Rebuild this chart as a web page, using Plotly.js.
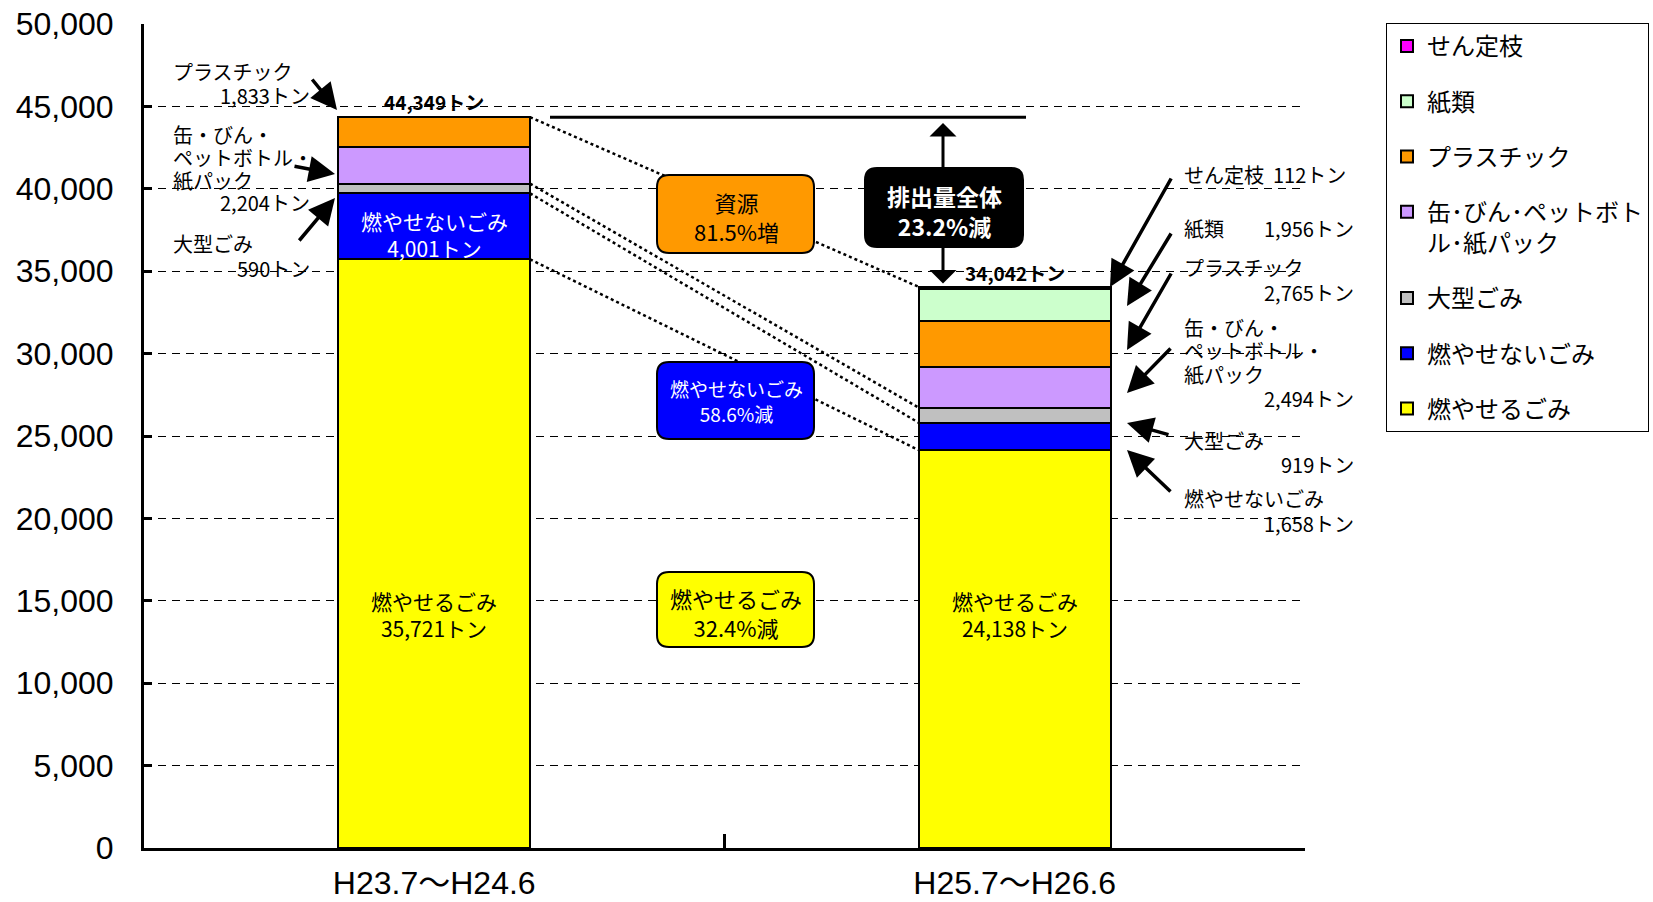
<!DOCTYPE html>
<html>
<head>
<meta charset="utf-8">
<script src="https://cdn.plot.ly/plotly-3.0.1.min.js"></script>
<style>html,body{margin:0;padding:0;background:#fff}#chart{width:1653px;height:902px}</style>
</head>
<body>
<div id="chart"></div>
<script>
// ---- data ----
const categories = ['H23.7～H24.6', 'H25.7～H26.6'];
const seriesNames = ['燃やせるごみ', '燃やせないごみ', '大型ごみ', '缶･びん･ペットボトル･紙パック', 'プラスチック', '紙類', 'せん定枝'];
const moyaseru  = [35721, 24138];
const moyasenai = [4001, 1658];
const oogata    = [590, 919];
const kanbin    = [2204, 2494];
const plastic   = [1833, 2765];
const shirui    = [0, 1956];
const sentei    = [0, 112];
const changeTexts = ['資源<br>81.5%増', '燃やせないごみ<br>58.6%減', '燃やせるごみ<br>32.4%減', '<b>排出量全体<br>23.2%減</b>'];
const yTicks = [0, 5000, 10000, 15000, 20000, 25000, 30000, 35000, 40000, 45000, 50000];

// ---- styles ----
const series = [moyaseru, moyasenai, oogata, kanbin, plastic, shirui, sentei];
const colors = ['#FFFF00', '#0000FF', '#C0C0C0', '#CC99FF', '#FF9900', '#CCFFCC', '#FF00FF'];
const legendNames = ['燃やせるごみ', '燃やせないごみ', '大型ごみ', '缶･びん･ペットボト<br>ル･紙パック', 'プラスチック', '紙類', 'せん定枝'];
const JP = '"Noto Sans CJK JP", sans-serif';
const LAT = '"Liberation Sans", Arial, "Noto Sans CJK JP", sans-serif';
const fmt = n => n.toLocaleString('en-US');

const W = 1653, H = 902;
const L = 144, R = 1305, T = 24, B = 848, YMAX = 50000;
const X = px => -0.5 + (px - L) / (R - L) * 2;
const PX = px => (px - L) / (R - L);
const PY = py => (B - py) / (B - T);

const cum = (k, i) => series.slice(0, k).reduce((s, a) => s + a[i], 0);
const total = i => cum(series.length, i);

const traces = series.map((vals, k) => ({
  type: 'bar', x: categories, y: vals, name: legendNames[k], legendgroup: 'g' + k,
  legendrank: series.length - k,
  marker: {color: colors[k], line: {color: '#000', width: 2}},
  hoverinfo: 'skip'
}));

function label(text, px, py, anchor, extra) {
  return Object.assign({xref: 'paper', yref: 'paper', x: PX(px), y: PY(py), text: text, showarrow: false,
    xanchor: anchor, yanchor: 'middle', borderpad: 0, font: {family: JP, size: 20, color: '#000'}}, extra || {});
}
function arrow(tx, ty, hx, hy) {
  return {xref: 'paper', yref: 'paper', x: PX(hx), y: PY(hy), ax: tx - hx, ay: ty - hy, axref: 'pixel', ayref: 'pixel',
    text: '', showarrow: true, arrowhead: 2, arrowsize: 1.5, arrowwidth: 3.5, arrowcolor: '#000', standoff: 0};
}
function rrect(x0, y0, x1, y1, r) {
  return `M${PX(x0 + r)},${PY(y0)} L${PX(x1 - r)},${PY(y0)} Q${PX(x1)},${PY(y0)} ${PX(x1)},${PY(y0 + r)} ` +
    `L${PX(x1)},${PY(y1 - r)} Q${PX(x1)},${PY(y1)} ${PX(x1 - r)},${PY(y1)} ` +
    `L${PX(x0 + r)},${PY(y1)} Q${PX(x0)},${PY(y1)} ${PX(x0)},${PY(y1 - r)} ` +
    `L${PX(x0)},${PY(y0 + r)} Q${PX(x0)},${PY(y0)} ${PX(x0 + r)},${PY(y0)} Z`;
}

const bargap = 0.67, half = (1 - bargap) / 2;
const t1 = total(0), t2 = total(1);

const shapes = [];
// dotted connector lines
[[7, 7], [3, 3], [2, 2], [1, 1]].forEach(([a, b]) => {
  shapes.push({type: 'line', xref: 'x', yref: 'y', x0: 0 + half, y0: cum(a, 0), x1: 1 - half, y1: cum(b, 1),
    line: {color: '#000', width: 2.5, dash: 'dot'}});
});
// reference level line
shapes.push({type: 'line', xref: 'x', yref: 'y', x0: X(550), x1: X(1026), y0: t1, y1: t1, line: {color: '#000', width: 3}});
// boxes
const boxes = [
  [657, 175, 814, 253, '#FF9900'],
  [657, 362, 814, 439, '#0000FF'],
  [657, 572, 814, 647, '#FFFF00'],
  [865, 168, 1023, 247, '#000000']
];
boxes.forEach(b => shapes.push({type: 'path', xref: 'paper', yref: 'paper', path: rrect(b[0], b[1], b[2], b[3], 12),
  fillcolor: b[4], line: {color: '#000', width: 2}}));

const ann = [];
// double arrow
ann.push({xref: 'paper', yref: 'paper', x: PX(943), y: PY(123), ax: 0, ay: 162, axref: 'pixel', ayref: 'pixel', text: '',
  showarrow: true, arrowhead: 1, startarrowhead: 1, arrowside: 'end+start', arrowsize: 1.5, startarrowsize: 1.5,
  arrowwidth: 3, arrowcolor: '#000', standoff: 0, startstandoff: 0});
// box texts
ann.push(label(changeTexts[0], 736, 217, 'center', {font: {family: JP, size: 22, color: '#000'}}));
ann.push(label(changeTexts[1], 736, 401, 'center', {font: {family: JP, size: 19, color: '#fff'}}));
ann.push(label(changeTexts[2], 736, 612, 'center', {font: {family: JP, size: 22, color: '#000'}}));
ann.push(label(changeTexts[3], 944, 211, 'center', {font: {family: JP, size: 23, color: '#fff'}}));
// totals
ann.push({xref: 'x', yref: 'y', x: 0, y: t1, yshift: 16, text: '<b>' + fmt(t1) + 'トン</b>', showarrow: false,
  font: {family: JP, size: 19, color: '#000'}});
ann.push({xref: 'x', yref: 'y', x: 1, y: t2, yshift: 14, text: '<b>' + fmt(t2) + 'トン</b>', showarrow: false,
  font: {family: JP, size: 19, color: '#000'}});
// in-bar labels
ann.push(label('燃やせないごみ<br>' + fmt(moyasenai[0]) + 'トン', 434, 234, 'center', {font: {family: JP, size: 21, color: '#fff'}}));
ann.push(label('燃やせるごみ<br>' + fmt(moyaseru[0]) + 'トン', 434, 614, 'center', {font: {family: JP, size: 21, color: '#000'}}));
ann.push(label('燃やせるごみ<br>' + fmt(moyaseru[1]) + 'トン', 1015, 614, 'center', {font: {family: JP, size: 21, color: '#000'}}));
// left callouts (H23)
ann.push(label('プラスチック', 172, 72, 'left'));
ann.push(label(fmt(plastic[0]) + 'トン', 311, 96, 'right'));
ann.push(label('缶・びん・', 172, 134, 'left'));
ann.push(label('ペットボトル・', 172, 157, 'left'));
ann.push(label('紙パック', 172, 180, 'left'));
ann.push(label(fmt(kanbin[0]) + 'トン', 311, 203, 'right'));
ann.push(label('大型ごみ', 172, 243, 'left'));
ann.push(label(fmt(oogata[0]) + 'トン', 311, 268, 'right'));
ann.push(arrow(311, 78, 337, 110));
ann.push(arrow(293, 166, 335, 174));
ann.push(arrow(298, 242, 335, 198));
// right callouts (H25)
ann.push(label('せん定枝&nbsp;&nbsp;' + fmt(sentei[1]) + 'トン', 1183, 174, 'left'));
ann.push(label('紙類', 1183, 228, 'left'));
ann.push(label(fmt(shirui[1]) + 'トン', 1355, 228, 'right'));
ann.push(label('プラスチック', 1183, 267, 'left'));
ann.push(label(fmt(plastic[1]) + 'トン', 1355, 292, 'right'));
ann.push(label('缶・びん・', 1183, 327, 'left'));
ann.push(label('ペットボトル・', 1183, 350, 'left'));
ann.push(label('紙パック', 1183, 374, 'left'));
ann.push(label(fmt(kanbin[1]) + 'トン', 1355, 398, 'right'));
ann.push(label('大型ごみ', 1183, 441, 'left'));
ann.push(label(fmt(oogata[1]) + 'トン', 1355, 465, 'right'));
ann.push(label('燃やせないごみ', 1183, 498, 'left'));
ann.push(label(fmt(moyasenai[1]) + 'トン', 1355, 523, 'right'));
ann.push(arrow(1172, 177, 1110, 287));
ann.push(arrow(1172, 232, 1127, 306));
ann.push(arrow(1172, 272, 1127, 350));
ann.push(arrow(1172, 347, 1127, 393));
ann.push(arrow(1170, 435, 1127, 423));
ann.push(arrow(1172, 493, 1127, 450));

const layout = {
  width: W, height: H,
  margin: {l: L, r: W - R, t: T, b: H - B, pad: 0},
  paper_bgcolor: '#fff', plot_bgcolor: '#fff',
  barmode: 'stack', bargap: bargap,
  showlegend: true,
  legend: {xref: 'container', yref: 'container', x: 1386 / W, y: 1 - 23 / H, xanchor: 'left', yanchor: 'top',
    traceorder: 'grouped', tracegroupgap: 21, valign: 'top', bgcolor: '#fff', bordercolor: '#000', borderwidth: 1,
    font: {family: JP, size: 24, color: '#000'}},
  xaxis: {type: 'category', range: [-0.5, 1.5], showline: true, linecolor: '#000', linewidth: 3,
    ticks: 'inside', tickson: 'boundaries', ticklen: 14, tickwidth: 3, tickcolor: '#000',
    showgrid: false, zeroline: false, ticklabelstandoff: 5,
    tickfont: {family: LAT, size: 32, color: '#000'}, fixedrange: true},
  yaxis: {range: [0, YMAX], tickvals: yTicks, tickformat: ',d', showline: true, linecolor: '#000', linewidth: 3,
    ticks: 'inside', ticklen: 8, tickwidth: 3, tickcolor: '#000',
    showgrid: true, gridcolor: '#000', gridwidth: 1, griddash: '8px,6px', zeroline: false,
    ticklabelstandoff: 21, tickfont: {family: LAT, size: 32, color: '#000'}, fixedrange: true},
  shapes: shapes,
  annotations: ann
};

Plotly.newPlot('chart', traces, layout, {displayModeBar: false, staticPlot: true});
</script>
</body>
</html>
